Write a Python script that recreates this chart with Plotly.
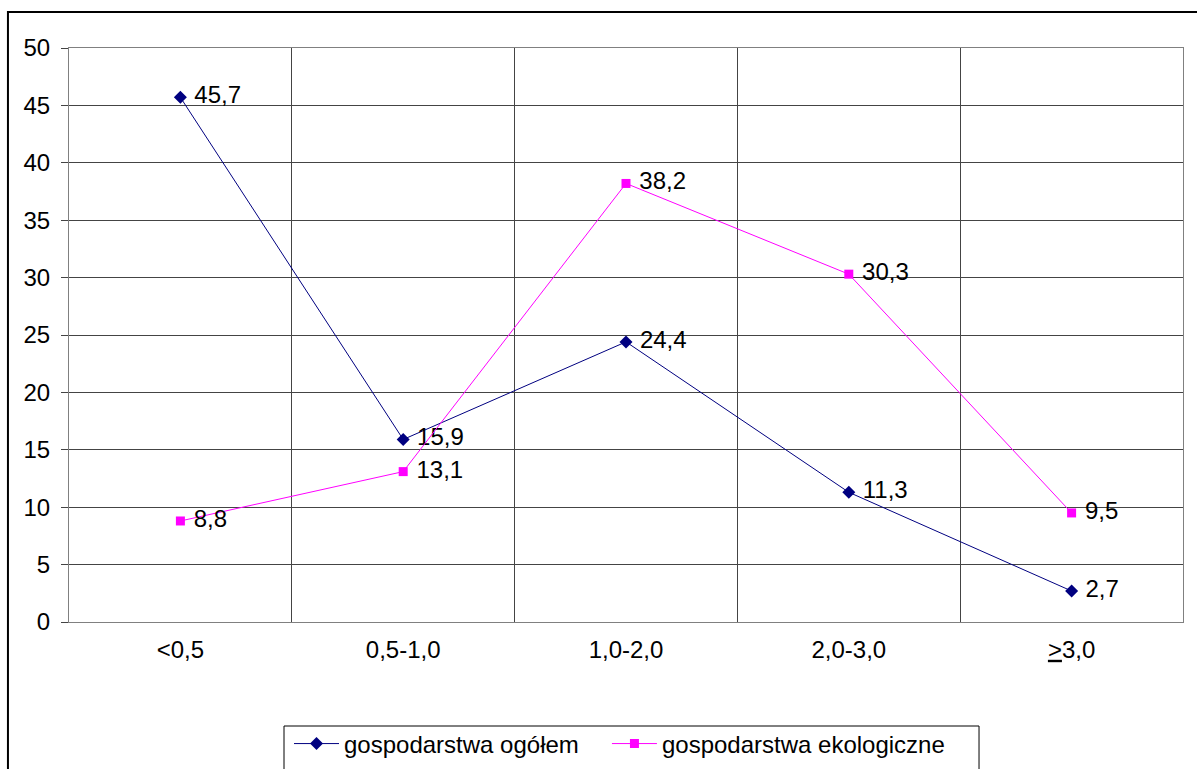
import plotly.graph_objects as go

categories = ["<0,5", "0,5-1,0", "1,0-2,0", "2,0-3,0", "<u>></u>3,0"]
ogolem = [45.7, 15.9, 24.4, 11.3, 2.7]
ekologiczne = [8.8, 13.1, 38.2, 30.3, 9.5]
series_names = ["gospodarstwa ogółem", "gospodarstwa ekologiczne"]

def fmt(v):
    return f"{v:.1f}".replace(".", ",")

FONT = "Arial, Liberation Sans, sans-serif"
FS = 24

fig = go.Figure()
fig.add_trace(go.Scatter(
    x=categories, y=ogolem, name=series_names[0], mode="lines+markers+text",
    line=dict(color="#000080", width=1),
    marker=dict(symbol="diamond", size=10, color="#000080"),
    text=[" " + fmt(v) for v in ogolem], textposition="middle right",
    textfont=dict(size=FS, color="black", family=FONT),
    legend="legend",
))
fig.add_trace(go.Scatter(
    x=categories, y=ekologiczne, name=series_names[1], mode="lines+markers+text",
    line=dict(color="#FF00FF", width=1),
    marker=dict(symbol="square", size=9, color="#FF00FF"),
    text=[" " + fmt(v) for v in ekologiczne], textposition="middle right",
    textfont=dict(size=FS, color="black", family=FONT),
    legend="legend2",
))

leg_common = dict(
    orientation="h", xanchor="left", yanchor="middle", y=-0.2125,
    bgcolor="rgba(0,0,0,0)", borderwidth=0,
    font=dict(size=FS, family=FONT, color="black"), itemwidth=45,
)

fig.update_layout(
    width=1197, height=769,
    margin=dict(l=69, r=14, t=48, b=147, autoexpand=False),
    paper_bgcolor="white", plot_bgcolor="white",
    font=dict(family=FONT, size=FS, color="black"),
    showlegend=True,
    legend=dict(x=0.1975, **leg_common),
    legend2=dict(x=0.4829, **leg_common),
    xaxis=dict(
        type="category", tickson="boundaries", showgrid=True, gridcolor="#444",
        gridwidth=1, ticks="", showline=True, linecolor="#808080", linewidth=1,
        mirror=True, ticklabelstandoff=6, range=[-0.5, 4.5],
    ),
    yaxis=dict(
        range=[0, 50], dtick=5, showgrid=True, gridcolor="#444", gridwidth=1,
        ticks="outside", ticklen=7, tickcolor="#444", showline=True,
        linecolor="#808080", linewidth=1, mirror=True, zeroline=False,
        ticklabelstandoff=6,
    ),
    shapes=[
        dict(type="rect", xref="paper", yref="paper",
             x0=-0.0548, x1=1.03, y0=-0.3, y1=1.0627,
             line=dict(color="black", width=2), fillcolor="rgba(0,0,0,0)",
             layer="below"),
        dict(type="rect", xref="paper", yref="paper",
             x0=0.1930, x1=0.8169, y0=-0.3, y1=-0.1812,
             line=dict(color="black", width=1), fillcolor="rgba(0,0,0,0)",
             layer="below"),
    ],
)

fig.write_html("out.html", config={"displayModeBar": False},
               post_script="document.body.style.margin='0';")
